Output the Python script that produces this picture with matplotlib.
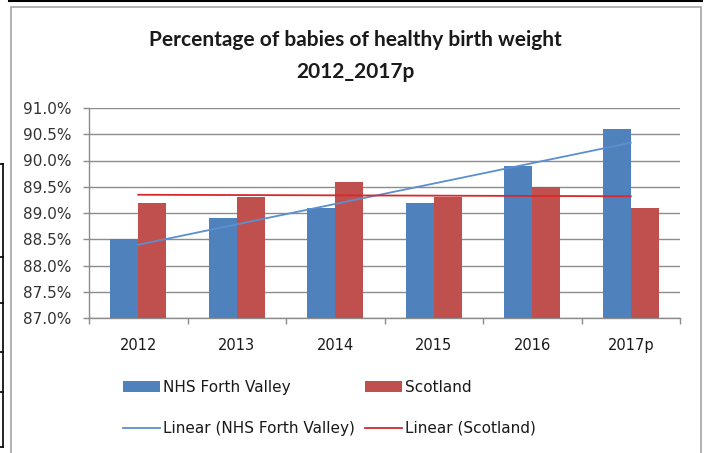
import numpy as np
import matplotlib.pyplot as plt
from matplotlib.lines import Line2D
from matplotlib.patches import Patch, Rectangle

# data
years = ["2012", "2013", "2014", "2015", "2016", "2017p"]
forth_valley = [88.5, 88.9, 89.1, 89.2, 89.9, 90.6]
scotland = [89.2, 89.3, 89.6, 89.3, 89.5, 89.1]
y_ticks = [87.0, 87.5, 88.0, 88.5, 89.0, 89.5, 90.0, 90.5, 91.0]

BLUE = "#4F81BD"
RED = "#C0504D"
TREND_BLUE = "#5B8FD0"
TREND_RED = "#D8282B"
GRID = "#8C8C8C"
TEXT = "#1A1A1A"

plt.rcParams["font.family"] = ["DejaVu Sans"]

W, H = 707, 453
fig = plt.figure(figsize=(W / 100, H / 100), dpi=100)


def fx(px):
    return px / W


def fy(py):
    return 1 - py / H


# plot area
ax = fig.add_axes([fx(89), fy(318), fx(680) - fx(89), fy(108) - fy(318)])
x = np.arange(1, len(years) + 1)
bw = 0.285
ax.bar(x - bw / 2, forth_valley, bw, color=BLUE, zorder=3)
ax.bar(x + bw / 2, scotland, bw, color=RED, zorder=3)

# linear trend lines like excel
fv_fit = np.polyval(np.polyfit(x, forth_valley, 1), x)
sc_fit = np.polyval(np.polyfit(x, scotland, 1), x)
ax.plot(x, fv_fit, color=TREND_BLUE, lw=1.3, zorder=4)
ax.plot(x, sc_fit, color=TREND_RED, lw=1.3, zorder=4)

ax.set_xlim(0.5, len(years) + 0.5)
ax.set_ylim(y_ticks[0], y_ticks[-1])
ax.set_yticks(y_ticks)
ax.set_yticklabels([f"{v:.1f}%" for v in y_ticks])
ax.yaxis.grid(True, color=GRID, lw=1, zorder=0)
ax.set_axisbelow(True)

ax.set_xticks(np.arange(0.5, len(years) + 1, 1.0))
ax.set_xticklabels([])
ax.set_xticks(x, years, minor=True)
ax.tick_params(axis="x", which="major", direction="out", length=4.3, width=1, color=GRID)
ax.tick_params(axis="x", which="minor", length=0, pad=14.5, labelsize=10.5, labelcolor=TEXT)
ax.tick_params(axis="y", direction="out", length=4.3, width=1, color=GRID,
               pad=8.5, labelsize=11, labelcolor="#333333")

for side in ["top", "right"]:
    ax.spines[side].set_visible(False)
for side in ["left", "bottom"]:
    ax.spines[side].set_color(GRID)
    ax.spines[side].set_linewidth(1)

# title
fig.text(fx(355), fy(40), "Percentage of babies of healthy birth weight",
         ha="center", va="center", fontsize=15, fontweight="bold", color=TEXT,
         family=["Lato", "DejaVu Sans"])
fig.text(fx(355), fy(72), "2012_2017p",
         ha="center", va="center", fontsize=15, fontweight="bold", color=TEXT,
         family=["Lato", "DejaVu Sans"])

# legend
handles = [
    Patch(facecolor=BLUE, edgecolor="none"),
    Line2D([], [], color=TREND_BLUE, lw=1.3),
    Patch(facecolor=RED, edgecolor="none"),
    Line2D([], [], color=TREND_RED, lw=1.3),
]
labels = ["NHS Forth Valley", "Linear (NHS Forth Valley)", "Scotland", "Linear (Scotland)"]
fig.legend(handles, labels, ncol=2, loc="upper left", bbox_to_anchor=(fx(123), fy(380)),
           frameon=False, borderpad=0, borderaxespad=0, fontsize=11,
           handlelength=2.42, handleheight=0.72, handletextpad=0.18,
           labelspacing=1.7, columnspacing=0.7, labelcolor=TEXT)

# chart border and bits of the surrounding document
fig.add_artist(Rectangle((fx(11), fy(460)), fx(701) - fx(11), fy(7) - fy(460),
                         fill=False, edgecolor="#A6A6A6", lw=1.2, transform=fig.transFigure))
fig.add_artist(Line2D([fx(9), fx(702)], [fy(1), fy(1)], color="black", lw=1.5,
                      transform=fig.transFigure))
fig.add_artist(Line2D([fx(3), fx(3)], [fy(164), fy(447)], color="black", lw=1.2,
                      transform=fig.transFigure))
for yy in [164, 257, 303, 352, 392, 447]:
    fig.add_artist(Line2D([fx(0), fx(3)], [fy(yy), fy(yy)], color="black", lw=1.2,
                          transform=fig.transFigure))

fig.savefig("out.png", dpi=100)
